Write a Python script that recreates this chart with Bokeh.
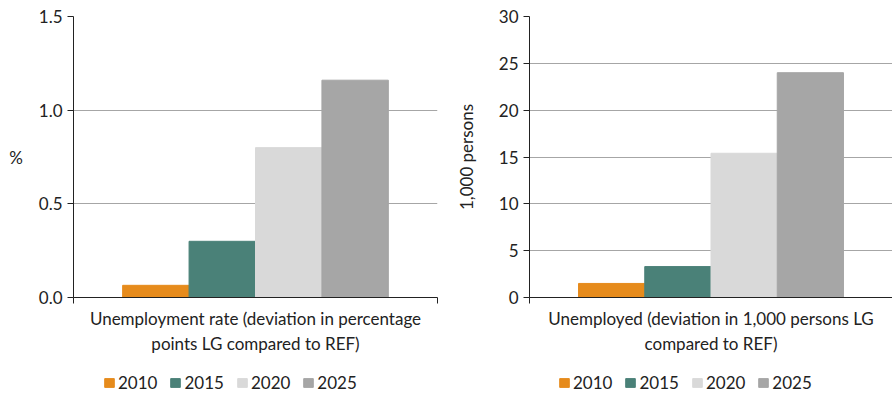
from bokeh.plotting import figure
from bokeh.layouts import row, column
from bokeh.models import ColumnDataSource, Range1d, Legend, LegendItem, FixedTicker, NumeralTickFormatter
from bokeh.embed import file_html
from bokeh.resources import INLINE

years = ["2010", "2015", "2020", "2025"]
colors = ["#E68B1C", "#4A8178", "#D9D9D9", "#A6A6A6"]

rate_values = [0.065, 0.30, 0.80, 1.16]
rate_ticks = [0.0, 0.5, 1.0, 1.5]
rate_label = "Unemployment rate (deviation in percentage\npoints LG compared to REF)"
rate_ylabel = "%"

unemp_values = [1.5, 3.3, 15.4, 24.0]
unemp_ticks = [0, 5, 10, 15, 20, 25, 30]
unemp_label = "Unemployed (deviation in 1,000 persons LG\ncompared to REF)"
unemp_ylabel = "1,000 persons"

FONT = "Lato"
TXT = "#222222"
PAD = 0.74


def make_panel(values, ticks, xlabel, ylabel, fmt, border_left, border_right,
               horizontal_ylabel, ylabel_standoff, legend_x):
    idx = list(range(len(years)))
    src = ColumnDataSource(dict(x=idx, year=years, val=values, color=colors))
    xr = Range1d(idx[0] - 0.5 - PAD, idx[-1] + 0.5 + PAD)
    center = (idx[0] + idx[-1]) / 2

    p = figure(
        x_range=xr, y_range=(ticks[0], ticks[-1]),
        width=446, height=356,
        output_backend="svg", toolbar_location=None,
        min_border_left=border_left, min_border_right=border_right,
        min_border_top=16, min_border_bottom=58,
    )
    p.vbar(x="x", top="val", width=1.0, color="color", source=src)
    p.outline_line_color = None
    p.xgrid.grid_line_color = None
    p.ygrid.grid_line_color = "#A6A6A6"
    p.ygrid.ticker = FixedTicker(ticks=ticks)

    p.yaxis.ticker = FixedTicker(ticks=ticks)
    p.yaxis.formatter = NumeralTickFormatter(format=fmt)
    p.yaxis.minor_tick_line_color = None
    p.yaxis.major_tick_in = 0
    p.yaxis.major_tick_out = 6
    p.yaxis.axis_line_color = "#222222"
    p.yaxis.major_tick_line_color = "#222222"
    p.yaxis.major_label_text_font = FONT
    p.yaxis.major_label_text_font_size = "17px"
    p.yaxis.major_label_text_color = TXT
    p.yaxis.axis_label = ylabel
    p.yaxis.axis_label_text_font = FONT
    p.yaxis.axis_label_text_font_size = "17px"
    p.yaxis.axis_label_text_font_style = "normal"
    p.yaxis.axis_label_text_color = TXT
    p.yaxis.axis_label_standoff = ylabel_standoff
    if horizontal_ylabel:
        p.yaxis.axis_label_orientation = "horizontal"

    p.xaxis.ticker = FixedTicker(ticks=[center], minor_ticks=[xr.start, xr.end])
    p.xaxis.major_label_overrides = {center: xlabel}
    p.xaxis.axis_line_color = "#222222"
    p.xaxis.major_tick_line_color = None
    p.xaxis.major_tick_in = 0
    p.xaxis.major_tick_out = 0
    p.xaxis.minor_tick_line_color = "#222222"
    p.xaxis.minor_tick_in = 0
    p.xaxis.minor_tick_out = 6
    p.xaxis.major_label_standoff = 4
    p.xaxis.major_label_text_font = FONT
    p.xaxis.major_label_text_font_size = "17px"
    p.xaxis.major_label_text_color = TXT

    # legend strip under the chart
    lg = figure(x_range=xr, y_range=(ticks[0], ticks[-1]), width=446, height=37,
                output_backend="svg", toolbar_location=None,
                x_axis_location=None, y_axis_location=None,
                min_border_left=0, min_border_right=0, min_border_top=0, min_border_bottom=0)
    lg.outline_line_color = None
    lg.xgrid.visible = False
    lg.ygrid.visible = False
    r = lg.vbar(x="x", top="val", width=1.0, color="color", source=src, visible=False)
    items = [LegendItem(label=y, renderers=[r], index=i) for i, y in enumerate(years)]
    leg = Legend(items=items, orientation="horizontal", location=(legend_x, 0),
                 glyph_width=12, glyph_height=11, label_standoff=3, spacing=12,
                 padding=0, margin=0, border_line_color=None, background_fill_alpha=0,
                 inactive_fill_alpha=0,
                 label_text_font=FONT, label_text_font_size="17px", label_text_color=TXT,
                 label_height=17)
    lg.add_layout(leg, "center")
    return column(p, lg, spacing=0)


p1 = make_panel(rate_values, rate_ticks, rate_label, rate_ylabel, "0.0", 73, 9, True, 13, 30)
p2 = make_panel(unemp_values, unemp_ticks, unemp_label, unemp_ylabel, "0", 83, 0, False, 19, 29)

layout = row(p1, p2, spacing=0)
open("out.html", "w").write(file_html(layout, INLINE))
